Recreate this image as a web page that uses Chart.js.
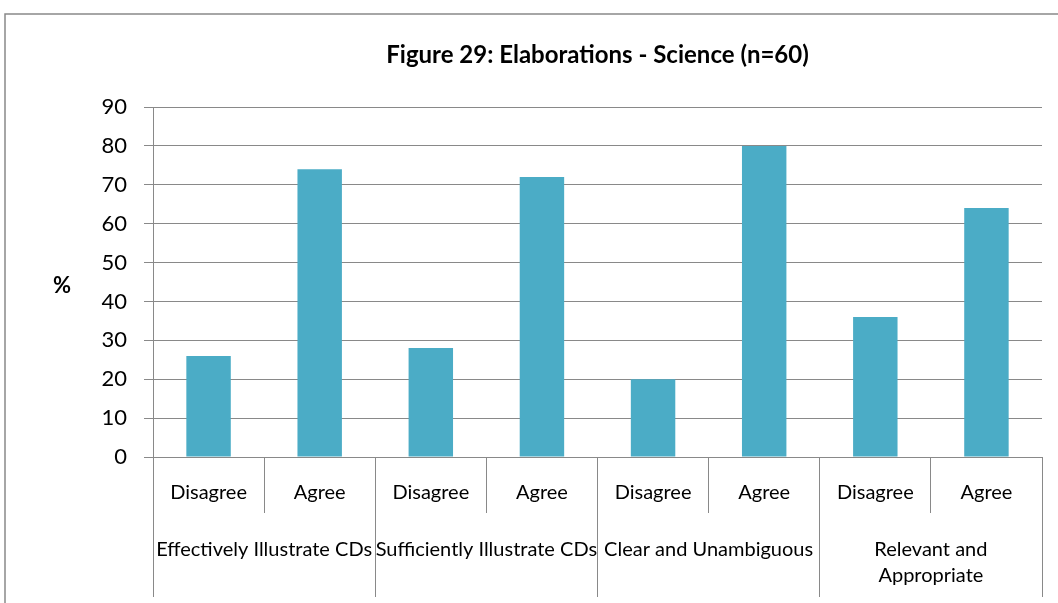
<!DOCTYPE html>
<html>
<head>
<meta charset="utf-8">
<script src="https://cdn.jsdelivr.net/npm/chart.js@4/dist/chart.umd.min.js"></script>
<style>
  html, body { margin: 0; padding: 0; background: #fff; }
  #wrap { position: relative; width: 1058px; height: 603px; }
</style>
</head>
<body>
<div id="wrap"><canvas id="c"></canvas></div>
<script>
const responses = ["Disagree", "Agree", "Disagree", "Agree", "Disagree", "Agree", "Disagree", "Agree"];
const groups = ["Effectively Illustrate CDs", "Sufficiently Illustrate CDs", "Clear and Unambiguous", ["Relevant and", "Appropriate"]];
const percentages = [26, 74, 28, 72, 20, 80, 36, 64];
const yTicks = [0, 10, 20, 30, 40, 50, 60, 70, 80, 90];
const titleText = "Figure 29: Elaborations - Science (n=60)";
const yAxisLabel = "%";

const FONT = "Lato, 'Open Sans', sans-serif";
const GRID = "#898989";

const framePlugin = {
  id: 'frame',
  beforeDraw(chart) {
    const ctx = chart.ctx;
    ctx.save();
    ctx.strokeStyle = GRID;
    ctx.lineWidth = 1.5;
    ctx.beginPath();
    ctx.moveTo(5, 603);
    ctx.lineTo(5, 14);
    ctx.lineTo(1058, 14);
    ctx.stroke();
    ctx.restore();
  },
  afterDraw(chart) {
    const ctx = chart.ctx;
    const y = chart.scales.y;
    ctx.save();
    ctx.fillStyle = "#000";
    ctx.font = "bold 22px " + FONT;
    ctx.textAlign = "center";
    ctx.textBaseline = "middle";
    ctx.fillText(yAxisLabel, 62, (y.top + y.bottom) / 2 + 4);
    ctx.restore();
  }
};

new Chart(document.getElementById('c'), {
  type: 'bar',
  data: {
    labels: responses,
    datasets: [{
      data: percentages,
      backgroundColor: "#4BACC6",
      borderWidth: 0,
      barPercentage: 0.4,
      categoryPercentage: 1.0
    }]
  },
  options: {
    responsive: true,
    maintainAspectRatio: false,
    animation: false,
    layout: { padding: { left: 0, right: 16, top: 0, bottom: 6 } },
    plugins: {
      legend: { display: false },
      tooltip: { enabled: false },
      title: {
        display: true,
        fullSize: false,
        text: titleText,
        color: "#000",
        font: { family: FONT, size: 24, weight: 'bold', lineHeight: 1.2 },
        padding: { top: 41, bottom: 37.2 }
      }
    },
    scales: {
      y: {
        min: 0, max: 90,
        afterBuildTicks(scale) { scale.ticks = yTicks.map(v => ({ value: v })); },
        afterFit(scale) { scale.width = 153; },
        ticks: { color: "#000", font: { family: FONT, size: 22 }, padding: 17 },
        grid: { color: GRID, lineWidth: 1, tickLength: 9, drawTicks: true },
        border: { display: true, color: GRID, width: 1 }
      },
      x: {
        type: 'category',
        position: 'bottom',
        weight: 0,
        offset: true,
        afterFit(scale) { scale.height = 56; },
        ticks: { color: "#000", font: { family: FONT, size: 20, lineHeight: 1.2 }, padding: -32, autoSkip: false, maxRotation: 0, minRotation: 0 },
        grid: { offset: true, drawOnChartArea: false, drawTicks: true, tickLength: 56, color: GRID, lineWidth: 1 },
        border: { display: true, color: GRID, width: 1 }
      },
      x2: {
        type: 'category',
        position: 'bottom',
        weight: 1,
        labels: groups,
        offset: true,
        afterFit(scale) { scale.height = 84; },
        ticks: { color: "#000", font: { family: FONT, size: 20, lineHeight: 1.3 }, padding: -60, autoSkip: false, maxRotation: 0, minRotation: 0 },
        grid: { offset: true, drawOnChartArea: false, drawTicks: true, tickLength: 84, color: GRID, lineWidth: 1 },
        border: { display: false }
      }
    }
  },
  plugins: [framePlugin]
});
</script>
</body>
</html>
